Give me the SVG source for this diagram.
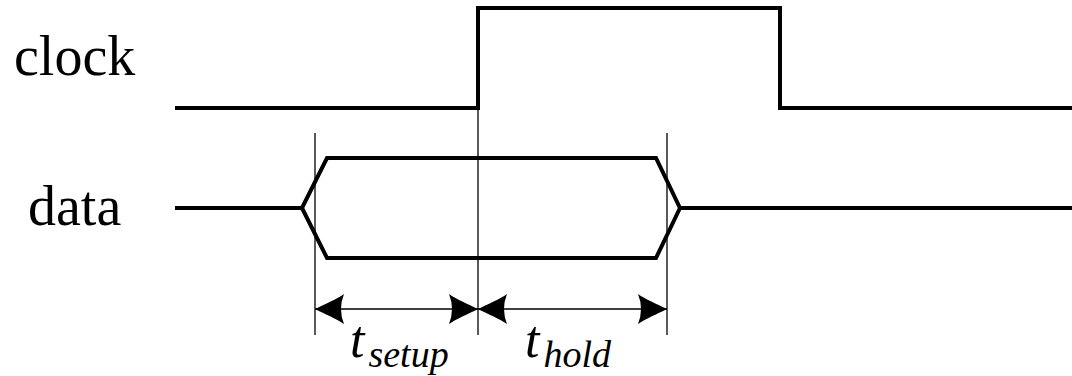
<svg xmlns="http://www.w3.org/2000/svg" width="1072" height="376" viewBox="0 0 1072 376">
  <style>
    .sig { fill: none; stroke: #000; stroke-width: 4; stroke-linejoin: miter; }
    .guide { fill: none; stroke: #000; stroke-width: 1.3; }
    .dim { fill: none; stroke: #000; stroke-width: 1.3; }
    .label { font-family: "Liberation Serif", "Times New Roman", serif; fill: #000; }
    .name { font-size: 56px; }
    .t { font-size: 52px; font-style: italic; }
    .sub { font-size: 38px; font-style: italic; }
  </style>
  <defs>
    <!-- concave arrowhead, tip at origin pointing left -->
    <path id="head" d="M0,0 C10,-5 22,-10 29,-15 Q23,0 29,15 C22,10 10,5 0,0 Z" fill="#000"/>
  </defs>

  <g id="clock">
    <text class="label name" x="14" y="75">clock</text>
    <polyline class="sig" points="175,108 478,108 478,8 780,8 780,108 1072,108"/>
  </g>

  <g id="data">
    <text class="label name" x="28" y="225">data</text>
    <polyline class="sig" points="175,208 302,208 327,158 656,158 680,208 1072,208"/>
    <polyline class="sig" points="302,208 327,258 656,258 680,208"/>
  </g>

  <g id="guides">
    <line class="guide" x1="315" y1="133" x2="315" y2="335"/>
    <line class="guide" x1="478" y1="108" x2="478" y2="335"/>
    <line class="guide" x1="667" y1="133" x2="667" y2="335"/>
  </g>

  <g id="connectors">
    <line class="dim" x1="315" y1="309" x2="478" y2="309"/>
    <use href="#head" transform="translate(315,309)"/>
    <use href="#head" transform="translate(478,309) scale(-1,1)"/>
    <line class="dim" x1="478" y1="309" x2="667" y2="309"/>
    <use href="#head" transform="translate(478,309)"/>
    <use href="#head" transform="translate(667,309) scale(-1,1)"/>
  </g>

  <g id="t-setup">
    <text class="label" x="350" y="357"><tspan class="t">t</tspan><tspan class="sub" dx="4" dy="10">setup</tspan></text>
  </g>

  <g id="t-hold">
    <text class="label" x="525" y="357"><tspan class="t">t</tspan><tspan class="sub" dx="4" dy="10">hold</tspan></text>
  </g>
</svg>
